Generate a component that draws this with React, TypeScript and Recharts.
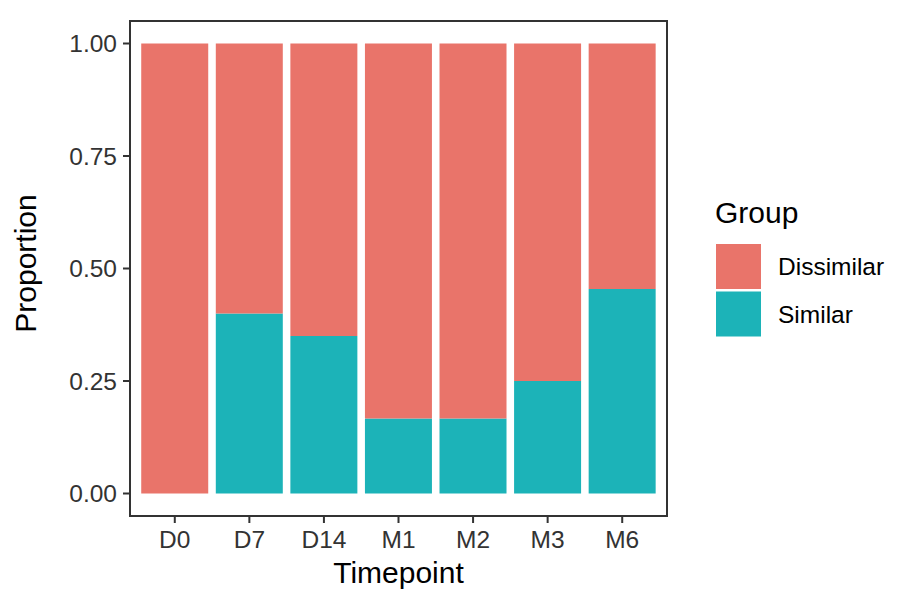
import React from 'react';
import * as R from 'recharts';
import { BarChart, Bar, XAxis, YAxis, Legend, Label } from 'recharts';

const timepoints = ['D0', 'D7', 'D14', 'M1', 'M2', 'M3', 'M6'];
const similar = [0, 0.4, 0.35, 0.1667, 0.1667, 0.25, 0.4545];
const dissimilar = [1, 0.6, 0.65, 0.8333, 0.8333, 0.75, 0.5455];
const yTicks = [0, 0.25, 0.5, 0.75, 1];
const groups = ['Dissimilar', 'Similar'];
const groupColors = ['#E9746A', '#1CB3B8'];

const data = timepoints.map((t, i) => ({ name: t, similar: similar[i], dissimilar: dissimilar[i] }));

const FONT = '"Liberation Sans", Arial, Helvetica, sans-serif';
const SMALL = 24.5;
const TITLE = 30;
const DARK = '#333333';

function PanelBorder() {
  const hook = (R as any).usePlotArea;
  const area = hook ? hook() : null;
  if (!area) return null;
  return (
    <rect x={area.x} y={area.y} width={area.width} height={area.height} fill="none" stroke={DARK} strokeWidth={2} />
  );
}

function renderLegend() {
  return (
    <svg width={200} height={160} style={{ overflow: 'visible' }}>
      <text x={15} y={33} fontFamily={FONT} fontSize={TITLE} fill="#000">Group</text>
      {groups.map((g, i) => {
        const y = 54 + i * 47.5;
        return (
          <g key={g}>
            <rect x={16} y={y} width={45} height={45} fill={groupColors[i]} />
            <text x={78} y={y + 22.5} dy="0.36em" fontFamily={FONT} fontSize={SMALL} fill="#000">{g}</text>
          </g>
        );
      })}
    </svg>
  );
}

export default function App() {
  return (
    <div style={{ position: 'absolute', left: 0, top: 0, width: 900, height: 600, background: '#fff' }}>
      <BarChart
        width={900}
        height={600}
        data={data}
        margin={{ top: 21, right: 233, bottom: 0, left: 0 }}
        barCategoryGap="5%"
        style={{ fontFamily: FONT }}
      >
        <XAxis
          dataKey="name"
          height={84}
          padding={{ left: 7.5, right: 7.5 }}
          axisLine={false}
          tickSize={7}
          tickMargin={8}
          tickLine={{ stroke: DARK, strokeWidth: 2 }}
          tick={{ fontSize: SMALL, fill: DARK, fontFamily: FONT }}
          interval={0}
        >
          <Label
            content={({ viewBox }: any) => (
              <text
                x={viewBox.x + viewBox.width / 2}
                y={viewBox.y + 67}
                textAnchor="middle"
                fontFamily={FONT}
                fontSize={TITLE}
                fill="#000"
              >
                Timepoint
              </text>
            )}
          />
        </XAxis>
        <YAxis
          width={130}
          type="number"
          domain={[-0.05, 1.05]}
          ticks={yTicks}
          allowDataOverflow
          axisLine={false}
          tickSize={7}
          tickMargin={6}
          tickLine={{ stroke: DARK, strokeWidth: 2 }}
          tick={{ fontSize: SMALL, fill: DARK, fontFamily: FONT }}
          tickFormatter={(v: number) => v.toFixed(2)}
        >
          <Label
            content={({ viewBox }: any) => {
              const x = viewBox.x + 36;
              const y = viewBox.y + viewBox.height / 2 - 5;
              return (
                <text
                  x={x}
                  y={y}
                  transform={`rotate(-90, ${x}, ${y})`}
                  textAnchor="middle"
                  fontFamily={FONT}
                  fontSize={TITLE}
                  fill="#000"
                >
                  Proportion
                </text>
              );
            }}
          />
        </YAxis>
        <Bar dataKey="similar" stackId="a" fill={groupColors[1]} isAnimationActive={false} />
        <Bar dataKey="dissimilar" stackId="a" fill={groupColors[0]} isAnimationActive={false} />
        <PanelBorder />
        <Legend
          layout="vertical"
          align="center"
          verticalAlign="middle"
          width={200}
          content={renderLegend}
          wrapperStyle={{ left: 700, top: 190, width: 200, height: 160 }}
        />
      </BarChart>
    </div>
  );
}
